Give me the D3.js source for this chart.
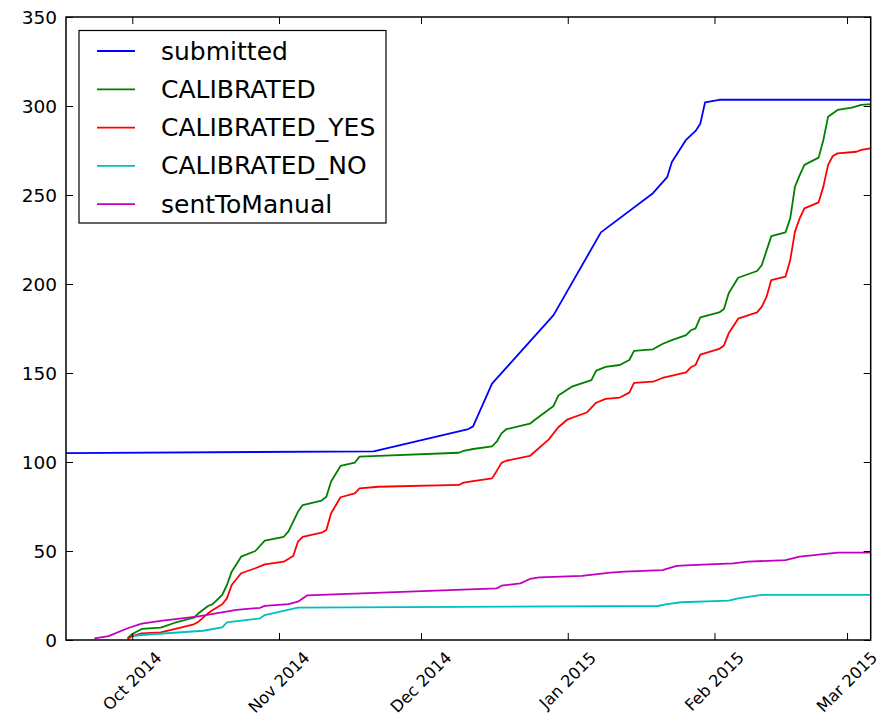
<!DOCTYPE html>
<html>
<head>
<meta charset="utf-8">
<script src="https://cdn.jsdelivr.net/npm/d3@7"></script>
<style>
  html, body { margin: 0; padding: 0; background: #fff; }
  svg { display: block; }
  text { font-family: "DejaVu Sans", sans-serif; fill: #000; }
</style>
</head>
<body>
<svg id="chart" width="883" height="718"></svg>
<script>
// ---------- data ----------
const seriesNames = ["submitted", "CALIBRATED", "CALIBRATED_YES", "CALIBRATED_NO", "sentToManual"];
const seriesColors = ["#0000ff", "#008000", "#ff0000", "#00bfbf", "#bf00bf"];

const submitted = [
  ["2014-09-17",105],["2014-11-21",106],["2014-12-11",118.5],["2014-12-12",120],
  ["2014-12-16",144],["2014-12-29",182.5],["2015-01-08",229],["2015-01-19",251],
  ["2015-01-22",260],["2015-01-23",268.5],["2015-01-26",281],["2015-01-28",286],
  ["2015-01-29",290],["2015-01-30",302],["2015-02-02",303.5],["2015-03-06",303.5]
];
const calibrated = [
  ["2014-09-30",1],["2014-10-01",3.4],["2014-10-03",6.2],["2014-10-07",6.9],["2014-10-10",9.7],
  ["2014-10-14",12.5],["2014-10-15",15],["2014-10-17",19.1],["2014-10-18",20.2],["2014-10-20",25.3],
  ["2014-10-21",30.9],["2014-10-22",38.4],["2014-10-24",46.8],["2014-10-27",50],["2014-10-29",55.8],
  ["2014-11-02",58],["2014-11-03",61],["2014-11-05",72],["2014-11-06",75.8],["2014-11-10",78.3],
  ["2014-11-11",80.5],["2014-11-12",89],["2014-11-14",97.8],["2014-11-17",99.6],["2014-11-18",103],
  ["2014-11-22",103.4],["2014-12-09",105.2],["2014-12-10",106.3],["2014-12-12",107.3],["2014-12-16",108.8],
  ["2014-12-17",111.4],["2014-12-18",116.1],["2014-12-19",118.4],["2014-12-24",121.5],["2014-12-25",123.6],
  ["2014-12-29",131.5],["2014-12-30",137.3],["2015-01-02",142.5],["2015-01-06",146],["2015-01-07",151.3],
  ["2015-01-09",153.4],["2015-01-12",154.5],["2015-01-14",157.3],["2015-01-15",162.4],["2015-01-19",163.3],
  ["2015-01-21",166.3],["2015-01-23",168.5],["2015-01-26",171.3],["2015-01-27",174],["2015-01-28",175.1],
  ["2015-01-29",181.3],["2015-02-02",184],["2015-02-03",186],["2015-02-04",194.8],["2015-02-06",203.5],
  ["2015-02-10",207.3],["2015-02-11",210.7],["2015-02-13",226.9],["2015-02-16",229],["2015-02-17",236.9],
  ["2015-02-18",254.7],["2015-02-19",261.2],["2015-02-20",266.9],["2015-02-23",271],["2015-02-24",280.9],
  ["2015-02-25",294],["2015-02-27",297.8],["2015-03-02",299.1],["2015-03-04",300.6],["2015-03-06",301.1]
];
const calibratedYes = [
  ["2014-09-30",0.4],["2014-10-01",2.2],["2014-10-03",3.7],["2014-10-07",4.3],["2014-10-09",5.6],
  ["2014-10-14",8.8],["2014-10-15",10.3],["2014-10-17",15],["2014-10-18",16.9],["2014-10-20",20.1],
  ["2014-10-21",23.4],["2014-10-22",30.9],["2014-10-24",37.5],["2014-10-27",40.3],["2014-10-29",42.5],
  ["2014-11-02",44],["2014-11-04",47.2],["2014-11-05",55.2],["2014-11-06",58],["2014-11-10",60.3],
  ["2014-11-11",61.8],["2014-11-12",71.2],["2014-11-14",80.2],["2014-11-17",82.4],["2014-11-18",85.2],
  ["2014-11-22",86.1],["2014-12-09",87.1],["2014-12-10",88.4],["2014-12-12",89.3],["2014-12-16",90.8],
  ["2014-12-17",95],["2014-12-18",99.5],["2014-12-19",100.7],["2014-12-24",103.4],["2014-12-28",112.7],
  ["2014-12-30",119.5],["2015-01-01",124],["2015-01-05",127.8],["2015-01-07",133.3],["2015-01-09",135.5],
  ["2015-01-12",136.2],["2015-01-14",139],["2015-01-15",144.4],["2015-01-19",145.1],["2015-01-21",147.2],
  ["2015-01-26",150.4],["2015-01-27",153.2],["2015-01-28",154.5],["2015-01-29",160.3],["2015-02-02",163.5],
  ["2015-02-03",165.5],["2015-02-04",172.3],["2015-02-06",180.5],["2015-02-10",184.1],["2015-02-11",187.3],
  ["2015-02-12",192.9],["2015-02-13",202.2],["2015-02-16",204.1],["2015-02-17",213.5],["2015-02-18",229.4],
  ["2015-02-19",236.9],["2015-02-20",242.5],["2015-02-23",245.9],["2015-02-24",254.7],["2015-02-25",266.9],
  ["2015-02-26",271.9],["2015-02-27",273.4],["2015-03-03",274.3],["2015-03-04",275.3],["2015-03-06",276.2]
];
const calibratedNo = [
  ["2014-10-01",2.2],["2014-10-03",2.8],["2014-10-16",5.2],["2014-10-20",7.1],["2014-10-21",9.9],
  ["2014-10-28",12.2],["2014-10-29",14],["2014-11-05",18.2],["2015-01-20",19.1],["2015-01-22",20.2],
  ["2015-01-25",21.2],["2015-02-04",22.1],["2015-02-06",23.4],["2015-02-11",25.3],["2015-03-06",25.3]
];
const sentToManual = [
  ["2014-09-23",0.9],["2014-09-26",2.2],["2014-09-30",6.6],["2014-10-03",9.2],["2014-10-07",10.7],
  ["2014-10-15",13.3],["2014-10-23",16.9],["2014-10-28",18.1],["2014-10-29",19.2],["2014-11-03",20.2],
  ["2014-11-05",21.5],["2014-11-07",25.1],["2014-12-17",29],["2014-12-18",30.5],["2014-12-22",31.8],
  ["2014-12-24",34.3],["2014-12-26",35.2],["2015-01-04",36],["2015-01-10",37.8],["2015-01-13",38.4],
  ["2015-01-21",39.3],["2015-01-24",41.6],["2015-01-27",42.1],["2015-02-05",43],["2015-02-08",44],
  ["2015-02-16",44.9],["2015-02-19",46.8],["2015-02-27",49.1],["2015-03-06",49.1]
];
const xDomain = ["2014-09-17", "2015-03-06"];
const xTickDates = ["2014-10-01","2014-11-01","2014-12-01","2015-01-01","2015-02-01","2015-03-01"];
const yTicks = [0, 50, 100, 150, 200, 250, 300, 350];
const yDomain = [0, 350];

// ---------- layout ----------
const svg = d3.select("#chart");
const L = 66, R = 870.7, T = 17, B = 640;
const parse = d3.utcParse("%Y-%m-%d");
const fmt = d3.utcFormat("%b %Y");

const x = d3.scaleUtc().domain(xDomain.map(parse)).range([L, R]);
const y = d3.scaleLinear().domain(yDomain).range([B, T]);

svg.append("defs").append("clipPath").attr("id", "clip")
  .append("rect").attr("x", L).attr("y", T).attr("width", R - L).attr("height", B - T);

const allSeries = [submitted, calibrated, calibratedYes, calibratedNo, sentToManual];
const line = d3.line().x(d => x(parse(d[0]))).y(d => y(d[1]));

const plot = svg.append("g").attr("clip-path", "url(#clip)");
allSeries.forEach((s, i) => {
  plot.append("path")
    .attr("d", line(s))
    .attr("fill", "none")
    .attr("stroke", seriesColors[i])
    .attr("stroke-width", 1.8)
    .attr("stroke-linejoin", "round");
});

// axes (ticks inside, on all four sides)
const tickLen = 7;
const xTicks = xTickDates.map(parse);
function styleTicks(g) {
  g.select(".domain").remove();
  g.selectAll(".tick line").attr("stroke", "#000").attr("stroke-width", 1);
}
svg.append("g").attr("transform", `translate(0,${B})`)
  .call(d3.axisBottom(x).tickValues(xTicks).tickSizeInner(-tickLen).tickSizeOuter(0).tickFormat(""))
  .call(styleTicks);
svg.append("g").attr("transform", `translate(0,${T})`)
  .call(d3.axisTop(x).tickValues(xTicks).tickSizeInner(-tickLen).tickSizeOuter(0).tickFormat(""))
  .call(styleTicks);
svg.append("g").attr("transform", `translate(${L},0)`)
  .call(d3.axisLeft(y).tickValues(yTicks).tickSizeInner(-tickLen).tickSizeOuter(0).tickFormat(""))
  .call(styleTicks);
svg.append("g").attr("transform", `translate(${R},0)`)
  .call(d3.axisRight(y).tickValues(yTicks).tickSizeInner(-tickLen).tickSizeOuter(0).tickFormat(""))
  .call(styleTicks);

// y tick labels
svg.append("g").selectAll("text").data(yTicks).join("text")
  .attr("x", L - 9).attr("y", d => y(d))
  .attr("text-anchor", "end").attr("dominant-baseline", "central")
  .style("font-size", "18.5px")
  .text(d => d);

// x tick labels rotated 45°, bbox centred on the tick
const xl = svg.append("g");
xTicks.forEach(d => {
  const t = xl.append("text")
    .attr("text-anchor", "middle").attr("dominant-baseline", "central")
    .style("font-size", "16.3px")
    .text(fmt(d));
  const bb = t.node().getBBox();
  const H = (bb.width + bb.height) / Math.SQRT2;
  t.attr("transform", `translate(${x(d)},${B + 8 + H / 2}) rotate(-45)`);
});

// frame
svg.append("rect").attr("x", L).attr("y", T).attr("width", R - L).attr("height", B - T)
  .attr("fill", "none").attr("stroke", "#000").attr("stroke-width", 1.5);

// legend
const lg = svg.append("g");
lg.append("rect").attr("x", 79).attr("y", 30.5).attr("width", 307).attr("height", 192.5)
  .attr("fill", "#fff").attr("stroke", "#000").attr("stroke-width", 1.2);
seriesNames.forEach((n, i) => {
  const yy = 51 + i * 38.3;
  lg.append("line").attr("x1", 97).attr("x2", 135).attr("y1", yy).attr("y2", yy)
    .attr("stroke", seriesColors[i]).attr("stroke-width", 1.8);
  lg.append("text").attr("x", 161).attr("y", yy)
    .attr("dominant-baseline", "central")
    .style("font-size", "25px")
    .text(n);
});
</script>
</body>
</html>
